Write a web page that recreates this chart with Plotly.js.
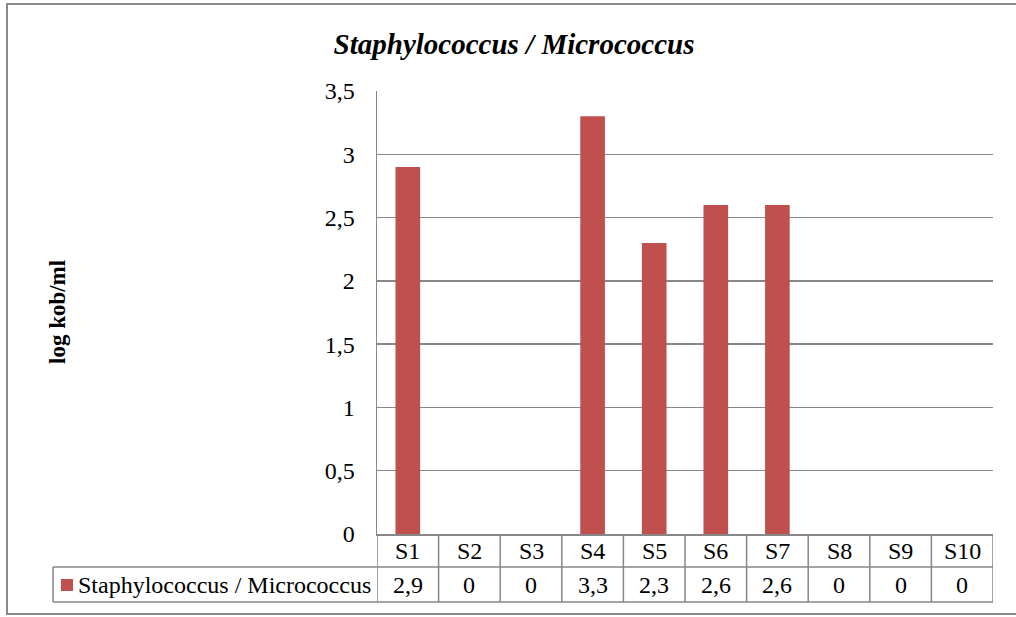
<!DOCTYPE html>
<html>
<head>
<meta charset="utf-8">
<script src="https://cdn.plot.ly/plotly-3.0.1.min.js"></script>
<style>
  html, body { margin: 0; padding: 0; background: #ffffff; }
  #chart { width: 1016px; height: 617px; }
</style>
</head>
<body>
<div id="chart"></div>
<script>
// Samples and their log counts
const categories = ['S1', 'S2', 'S3', 'S4', 'S5', 'S6', 'S7', 'S8', 'S9', 'S10'];
const logCounts = [2.9, 0, 0, 3.3, 2.3, 2.6, 2.6, 0, 0, 0];
const seriesName = 'Staphylococcus / Micrococcus';
const chartTitle = 'Staphylococcus / Micrococcus';
const yTitle = 'log kob/ml';

const W = 1016, H = 617;
const plotL = 377, plotR = 993, plotT = 91, plotB = 534;
const plotW = plotR - plotL, plotH = plotB - plotT;
const row1B = 567, row2B = 602, keyCellL = 53;

const barColor = '#C0504D';
const lineColor = '#878787';
const serifFamily = 'Liberation Serif, serif';

// pixel -> paper helpers for layout-only positioning
const px = x => (x - plotL) / plotW;
const py = y => (plotB - y) / plotH;

const fmt = v => String(v).replace('.', ',');

const shapes = [];
const annotations = [];

function hLine(x0, x1, y) {
  shapes.push({type: 'line', xref: 'paper', yref: 'paper',
    x0: x0, x1: x1, y0: py(y), y1: py(y),
    line: {color: lineColor, width: 1.5}});
}

// outer chart frame
shapes.push({type: 'rect', xref: 'paper', yref: 'paper',
  x0: px(7), x1: px(1030), y0: py(4), y1: py(614),
  line: {color: '#8a8a8a', width: 2}, fillcolor: 'rgba(0,0,0,0)'});

// data table grid
hLine(px(keyCellL), 1, row1B);
hLine(px(keyCellL), 1, row2B);
shapes.push({type: 'line', xref: 'paper', yref: 'paper',
  x0: px(keyCellL), x1: px(keyCellL), y0: py(row1B), y1: py(row2B),
  line: {color: lineColor, width: 1.5}});
for (let i = 0; i <= categories.length; i++) {
  shapes.push({type: 'line', xref: 'x', yref: 'paper',
    x0: i - 0.5, x1: i - 0.5, y0: py(plotB), y1: py(row2B),
    line: {color: lineColor, width: 1.5}});
}

// category and value rows
categories.forEach((c, i) => {
  annotations.push({xref: 'x', yref: 'paper', x: i, y: py((plotB + row1B) / 2),
    text: c, showarrow: false, xanchor: 'center', yanchor: 'middle',
    font: {family: serifFamily, size: 24, color: '#000'}});
  annotations.push({xref: 'x', yref: 'paper', x: i, y: py((row1B + row2B) / 2),
    text: fmt(logCounts[i]), showarrow: false, xanchor: 'center', yanchor: 'middle',
    font: {family: serifFamily, size: 24, color: '#000'}});
});

// legend key inside the table
shapes.push({type: 'rect', xref: 'paper', yref: 'paper',
  x0: px(61), x1: px(73), y0: py(579), y1: py(591),
  line: {width: 0}, fillcolor: barColor});
annotations.push({xref: 'paper', yref: 'paper', x: px(76), y: py((row1B + row2B) / 2),
  text: seriesName, showarrow: false, xanchor: 'left', yanchor: 'middle',
  font: {family: serifFamily, size: 24, color: '#000'}});

// y axis title
annotations.push({xref: 'paper', yref: 'paper', x: px(57), y: py(312),
  text: '<b>' + yTitle + '</b>', showarrow: false, textangle: -90,
  xanchor: 'center', yanchor: 'middle',
  font: {family: serifFamily, size: 23, color: '#000'}});

const trace = {
  type: 'bar',
  x: categories,
  y: logCounts,
  name: seriesName,
  marker: {color: barColor, line: {width: 0}},
  hoverinfo: 'skip'
};

const layout = {
  width: W, height: H,
  margin: {l: plotL, r: W - plotR, t: plotT, b: H - plotB, pad: 0},
  paper_bgcolor: '#ffffff',
  plot_bgcolor: '#ffffff',
  font: {family: serifFamily, color: '#000'},
  separators: ',.',
  showlegend: false,
  bargap: 0.6,
  title: {
    text: '<b><i>' + chartTitle + '</i></b>',
    x: 514 / W, xanchor: 'center', xref: 'container',
    y: 1 - 44 / H, yanchor: 'middle', yref: 'container',
    font: {family: serifFamily, size: 29, color: '#000'}
  },
  xaxis: {
    type: 'category',
    range: [-0.5, categories.length - 0.5],
    showticklabels: false,
    showgrid: false,
    zeroline: false,
    showline: true, linecolor: lineColor, linewidth: 1.5,
    ticks: '', fixedrange: true
  },
  yaxis: {
    range: [0, 3.5],
    dtick: 0.5, tick0: 0,
    showgrid: true, gridcolor: lineColor, gridwidth: 1.3,
    zeroline: false,
    showline: true, linecolor: lineColor, linewidth: 1.5,
    ticks: '', ticklabelstandoff: 16,
    tickfont: {family: serifFamily, size: 24, color: '#000'},
    fixedrange: true
  },
  shapes: shapes,
  annotations: annotations
};

Plotly.newPlot('chart', [trace], layout, {displayModeBar: false, staticPlot: true});
</script>
</body>
</html>
